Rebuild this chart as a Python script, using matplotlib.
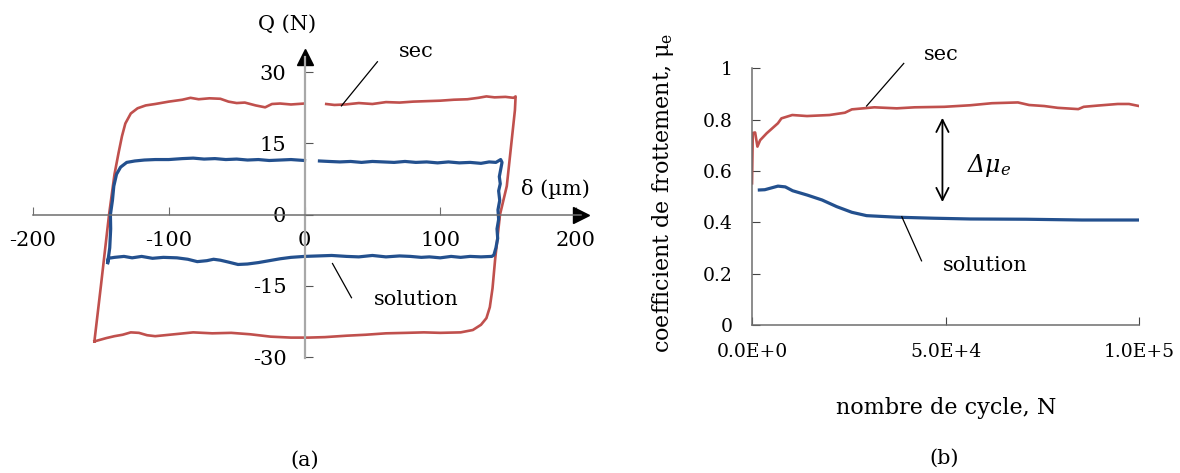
import numpy as np
import matplotlib
matplotlib.use("Agg")
import matplotlib.pyplot as plt

nan = np.nan

# (a) hysteresis loops, delta (um) / Q (N)
sec_d = [-154.8, -150, -144, -140, -137, -134.5, -132, -128, -123, -117, -110, -100, -90, -84,
         -78, -70, -62, -56, -50, -44, -36, -29, -24, -18, -10, 0, nan, 16, 22, 30, 40, 50, 60,
         70, 80, 90, 100, 110, 120, 128, 134, 140, 148, 154, 155.5,
         155, 152, 149, 144, 140.4, 138.5, 136.5, 134, 130, 124, 115, 100, 88, 75, 60, 45, 31,
         15, 3, -10, -25, -40, -54, -68, -82, -96, -110, -116, -122, -128, -134, -140, -146,
         -154.8]
sec_q = [-26.7, -15, 0, 8.5, 13, 16.5, 19.2, 21.3, 22.4, 23.0, 23.3, 23.8, 24.2, 24.6, 24.3,
         24.5, 24.4, 23.8, 23.5, 23.6, 23.0, 22.6, 23.3, 23.4, 23.2, 23.4, nan, 23.3, 23.1, 23.2,
         23.5, 23.3, 23.7, 23.6, 23.8, 23.9, 24.0, 24.2, 24.3, 24.6, 24.9, 24.7, 24.8, 24.6, 24.9,
         22, 14, 6, 0, -9.5, -15.5, -19.5, -21.8, -23.2, -24.3, -24.8, -24.9, -24.8, -24.9,
         -25.0, -25.3, -25.5, -25.8, -25.9, -25.9, -25.7, -25.2, -24.9, -25.0, -24.8, -25.2,
         -25.6, -25.4, -24.9, -24.8, -25.3, -25.6, -26.0, -26.7]

sol_d = [-145, -143.5, -142.8, -143, -141.5, -140.5, -138.5, -135.5, -131, -125, -118, -110,
         -100, -90, -82, -74, -66, -58, -50, -42, -34, -26, -18, -10, 0, nan, 11, 18, 26, 34,
         42, 50, 58, 66, 74, 82, 90, 98, 106, 114, 122, 130, 136, 141, 144.5, 145.5,
         144.5, 143.5, 144.2, 143, 143.8, 142.5, 143, 141.8, 142.3, 141, 139.5, 138,
         130, 122, 115, 108, 100, 92, 86, 78, 70, 60, 50, 40, 31, 20, 10, 0, -10, -18, -26,
         -34, -42, -49, -56, -62, -67, -72, -79, -86, -94, -104, -112, -120, -127, -133, -140,
         -144.5, -145]
sol_q = [-10.1, -7, -3, 0, 3, 6, 8.5, 10.0, 11.0, 11.3, 11.5, 11.6, 11.6, 11.8, 11.9, 11.7,
         11.8, 11.6, 11.7, 11.5, 11.6, 11.4, 11.5, 11.6, 11.4, nan, 11.3, 11.2, 11.1, 11.2, 11.0,
         11.2, 11.1, 11.0, 11.2, 11.0, 11.1, 10.9, 11.1, 10.9, 11.0, 10.8, 11.1, 11.0, 11.6, 11.0,
         9.5, 8, 6.5, 5, 3, 1, -1, -3, -5, -7, -8.5, -8.8,
         -8.9, -8.8, -9.0, -8.8, -9.1, -8.9, -9.0, -8.8, -8.7, -8.9, -8.6, -8.9, -8.8, -8.6, -8.7,
         -8.8, -9.0, -9.3, -9.7, -10.1, -10.4, -10.5, -10.0, -9.6, -9.4, -9.7, -9.9, -9.4, -9.1,
         -9.0, -9.2, -8.8, -9.1, -8.8, -9.0, -9.2, -10.1]

d_ticks = [-200, -100, 0, 100, 200]
q_ticks = [-30, -15, 0, 15, 30]

# (b) friction coefficient vs number of cycles
sec_n = [0, 200, 800, 1400, 2100, 3800, 6700, 7600, 10400, 14200, 20000, 24000, 25800, 31600,
         37400, 42000, 49700, 56400, 62000, 68700, 71600, 75500, 79000, 84300, 85700, 89500,
         94500, 97400, 100000]
sec_mu = [0.552, 0.748, 0.75, 0.695, 0.72, 0.747, 0.786, 0.805, 0.818, 0.814, 0.818, 0.827,
          0.840, 0.848, 0.844, 0.848, 0.850, 0.856, 0.864, 0.867, 0.857, 0.853, 0.846, 0.841,
          0.850, 0.855, 0.861, 0.861, 0.853]
sol_n = [1900, 3300, 6700, 8600, 10500, 14300, 18100, 21900, 25800, 29600, 37300, 46900,
         56400, 70800, 85200, 100000]
sol_mu = [0.526, 0.527, 0.541, 0.538, 0.523, 0.506, 0.487, 0.461, 0.439, 0.426, 0.420, 0.416,
          0.413, 0.412, 0.409, 0.409]

n_ticks = [0, 50000, 100000]
n_labels = ["0.0E+0", "5.0E+4", "1.0E+5"]
mu_ticks = [0, 0.2, 0.4, 0.6, 0.8, 1]
mu_labels = ["0", "0.2", "0.4", "0.6", "0.8", "1"]

RED = "#c0504d"
BLUE = "#23508e"
AXC = "#6e6e6e"

plt.rcParams["font.family"] = "DejaVu Serif"
plt.rcParams["axes.unicode_minus"] = False
plt.rcParams["mathtext.fontset"] = "custom"
plt.rcParams["mathtext.rm"] = "DejaVu Serif"
plt.rcParams["mathtext.it"] = "DejaVu Serif:italic"

fig = plt.figure(figsize=(11.8, 4.73), dpi=100)

# ---------- (a)
ax = fig.add_axes([0.028, 0.2431, 0.4644, 0.6364])
ax.plot(sec_d, sec_q, color=RED, lw=1.9)
ax.plot(sol_d, sol_q, color=BLUE, lw=2.3)
ax.set_xlim(-200, 203.7)
ax.set_ylim(-30.2, 33.2)
for s in ["top", "right"]:
    ax.spines[s].set_visible(False)
ax.spines["left"].set_position(("data", 0))
ax.spines["bottom"].set_position(("data", 0))
ax.spines["left"].set_color("#a8a8a8")
ax.spines["left"].set_linewidth(1.6)
ax.spines["bottom"].set_color(AXC)
ax.spines["bottom"].set_linewidth(1.1)
ax.set_xticks(d_ticks)
ax.set_yticks(q_ticks)
ax.tick_params(direction="in", length=6, labelsize=15, colors="black")
ax.tick_params(axis="x", pad=12, color=AXC)
ax.tick_params(axis="y", pad=13, color="#555555")
ax.set_zorder(2)
ax.plot(1, 0, marker=">", ms=11, color="black", transform=ax.get_yaxis_transform(), clip_on=False)
ax.plot(0, 1, marker="^", ms=11, color="black", transform=ax.get_xaxis_transform(), clip_on=False)
ax.text(-12.5, 40, "Q (N)", fontsize=15, ha="center", va="center")
ax.text(184.6, 5.3, "δ (µm)", fontsize=15, ha="center", va="center")
ax.text(82, 34.4, "sec", fontsize=15, ha="center", va="center")
ax.plot([53.7, 27.2], [32.2, 22.9], color="black", lw=0.9, clip_on=False)
ax.text(82, -17.8, "solution", fontsize=15, ha="center", va="center")
ax.plot([20.6, 34.6], [-10.3, -17.5], color="black", lw=0.9)
fig.text(305 / 1180, 1 - 460 / 473, "(a)", fontsize=15, ha="center", va="center")

# ---------- (b)
bx = fig.add_axes([0.6373, 0.3129, 0.3280, 0.5427])
bx.plot(sec_n, sec_mu, color=RED, lw=1.9)
bx.plot(sol_n, sol_mu, color=BLUE, lw=2.3)
bx.set_xlim(0, 100000)
bx.set_ylim(0, 1)
for s in ["top", "right"]:
    bx.spines[s].set_visible(False)
for s in ["left", "bottom"]:
    bx.spines[s].set_color(AXC)
    bx.spines[s].set_linewidth(1.1)
bx.set_xticks(n_ticks)
bx.set_xticklabels(n_labels)
bx.set_yticks(mu_ticks)
bx.set_yticklabels(mu_labels)
bx.tick_params(direction="in", length=6, labelsize=13.5, color="#444444")
bx.tick_params(axis="x", pad=13)
bx.tick_params(axis="y", pad=14)
bx.set_ylabel(r"coefficient de frottement, μ$_\mathrm{e}$", fontsize=16)
bx.yaxis.set_label_coords(-0.196, 0.514)
bx.set_xlabel("nombre de cycle, N", fontsize=16)
bx.xaxis.set_label_coords(0.501, -0.28)
bx.text(48800, 1.052, "sec", fontsize=15, ha="center", va="center")
bx.plot([39200, 29600], [1.019, 0.853], color="black", lw=0.9, clip_on=False)
bx.text(60200, 0.23, "solution", fontsize=15, ha="center", va="center")
bx.plot([38700, 43800], [0.422, 0.25], color="black", lw=0.9)
bx.annotate("", xy=(49200, 0.818), xytext=(49200, 0.468),
            arrowprops=dict(arrowstyle="<->", color="black", lw=1.3, mutation_scale=22))
bx.text(61200, 0.623, r"Δμ$_e$", fontsize=17, style="italic", ha="center", va="center")
fig.text(944 / 1180, 1 - 458 / 473, "(b)", fontsize=15, ha="center", va="center")

fig.savefig("out.png", dpi=100)
